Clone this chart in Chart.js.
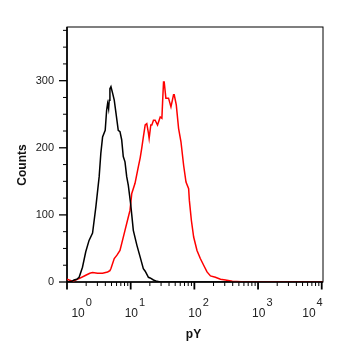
<!DOCTYPE html>
<html>
<head>
<meta charset="utf-8">
<script src="https://cdn.jsdelivr.net/npm/chart.js@4"></script>
<style>
  body { margin: 0; background: #fff; }
  #wrap { width: 352px; height: 353px; }
</style>
</head>
<body>
<div id="wrap"><canvas id="histo" width="352" height="353"></canvas></div>
<script>
// fluorescence channel (pY) and counts
const blackX = [1, 1.19, 1.29, 1.42, 1.55, 1.75, 1.97, 2.22, 2.52, 2.84, 3.2, 3.4, 3.62, 3.98, 4.19, 4.34, 4.5, 4.6, 4.72, 4.9, 5.21, 5.52, 5.87, 6.38, 6.79, 7.22, 7.65, 8.14, 8.66, 9.18, 10.0, 10.4, 11.0, 12.5, 14.1, 15.8, 16.9, 19.0, 20.2, 22.8, 25.8, 29.1, 10500];
const blackCounts = [0, 1, 3, 4, 7, 22, 45, 62, 73, 112, 157, 192, 216, 226, 256, 266, 258, 271, 288, 291, 281, 271, 252, 226, 224, 212, 187, 179, 157, 144, 116, 100, 77, 55, 37, 20, 16, 7, 6, 3, 1, 0, 0];

const redX = [1, 1.22, 1.55, 1.97, 2.28, 2.52, 3.02, 3.62, 4.34, 4.72, 4.9, 5.52, 6.09, 6.79, 8.14, 9.08, 9.77, 10.4, 11.7, 13.2, 14.1, 14.9, 15.8, 16.9, 17.9, 19.0, 19.5, 20.7, 21.5, 22.8, 24.2, 26.4, 29.1, 30.9, 31.8, 32.8, 33.6, 35.7, 39.3, 42.9, 47.1, 48.3, 52.0, 56.5, 61.6, 67.8, 73.9, 81.3, 83.4, 89.7, 97.5, 110, 124, 140, 158, 179, 214, 257, 308, 394, 638, 10500];
const redCounts = [4, 1, 5, 10, 13, 14, 13, 13, 15, 17, 20, 35, 40, 47, 77, 95, 107, 132, 147, 172, 185, 199, 216, 234, 236, 222, 214, 234, 234, 241, 241, 234, 246, 244, 271, 298, 298, 274, 274, 261, 279, 279, 264, 229, 209, 174, 149, 139, 122, 92, 67, 47, 35, 25, 15, 9, 7, 4, 3, 1, 0, 0];

const decades = [1, 10, 100, 1000, 10000];
const decadeExp = ['0', '1', '2', '3', '4'];
const yTicks = [0, 100, 200, 300];
const yMinor = [25, 50, 75, 125, 150, 175, 225, 250, 275, 325, 350, 375];

function toPoints(xs, ys) {
  return xs.map((x, i) => ({ x: x, y: ys[i] }));
}

const FONT = '"Liberation Sans", Arial, sans-serif';

const axesPlugin = {
  id: 'flowAxes',
  beforeDatasetsDraw(chart) {
    const ctx = chart.ctx;
    const a = chart.chartArea;
    const xs = chart.scales.x;
    const ys = chart.scales.y;
    ctx.save();
    ctx.strokeStyle = '#000';

    // frame
    ctx.lineWidth = 1;
    ctx.strokeRect(a.left, a.top, a.right - a.left, a.bottom - a.top);
    ctx.lineWidth = 1.6;
    ctx.beginPath();
    ctx.moveTo(a.left, a.top);
    ctx.lineTo(a.left, a.bottom);
    ctx.lineTo(a.right, a.bottom);
    ctx.stroke();

    // y ticks
    ctx.lineWidth = 1.3;
    yTicks.forEach(v => {
      const py = ys.getPixelForValue(v);
      ctx.beginPath(); ctx.moveTo(a.left - 8, py); ctx.lineTo(a.left, py); ctx.stroke();
    });
    ctx.lineWidth = 1;
    yMinor.forEach(v => {
      const py = ys.getPixelForValue(v);
      ctx.beginPath(); ctx.moveTo(a.left - 4, py); ctx.lineTo(a.left, py); ctx.stroke();
    });

    // x ticks, decades and 2..9
    decades.forEach((d, i) => {
      const px = xs.getPixelForValue(d);
      ctx.lineWidth = 1.8;
      ctx.beginPath(); ctx.moveTo(px, a.bottom); ctx.lineTo(px, a.bottom + 7.5); ctx.stroke();
      if (i < decades.length - 1) {
        ctx.lineWidth = 1;
        for (let k = 2; k <= 9; k++) {
          const mx = xs.getPixelForValue(d * k);
          ctx.beginPath(); ctx.moveTo(mx, a.bottom); ctx.lineTo(mx, a.bottom + 4); ctx.stroke();
        }
      }
    });

    // y labels
    ctx.fillStyle = '#222';
    ctx.font = '11px ' + FONT;
    ctx.textAlign = 'right';
    ctx.textBaseline = 'middle';
    yTicks.forEach(v => {
      ctx.fillText(String(v), 54, ys.getPixelForValue(v));
    });

    // x labels 10^n
    ctx.textAlign = 'left';
    ctx.textBaseline = 'alphabetic';
    decades.forEach((d, i) => {
      const px = xs.getPixelForValue(d);
      ctx.font = '12px ' + FONT;
      const w1 = ctx.measureText('10').width;
      ctx.font = '11px ' + FONT;
      const w2 = ctx.measureText(decadeExp[i]).width;
      const total = w1 + 1 + w2;
      let left = px - 6;
      if (i === 0) left = px + 4.4;
      if (i === decades.length - 1) left = px + 1 - total;
      ctx.font = '12px ' + FONT;
      ctx.fillText('10', left, 316.5);
      ctx.font = '11px ' + FONT;
      ctx.fillText(decadeExp[i], left + w1 + 1, 306);
    });

    // axis titles
    ctx.fillStyle = '#111';
    ctx.font = 'bold 12px ' + FONT;
    ctx.textAlign = 'center';
    ctx.fillText('pY', 193.5, 337.5);
    ctx.save();
    ctx.translate(25.5, 165);
    ctx.rotate(-Math.PI / 2);
    ctx.textBaseline = 'alphabetic';
    ctx.fillText('Counts', 0, 0);
    ctx.restore();

    ctx.restore();
  }
};

const ctx = document.getElementById('histo').getContext('2d');
const histoChart = new Chart(ctx, {
  type: 'line',
  data: {
    datasets: [
      {
        label: 'control',
        data: toPoints(blackX, blackCounts),
        borderColor: '#000',
        borderWidth: 1.5,
        pointRadius: 0,
        tension: 0,
        fill: false
      },
      {
        label: 'pY',
        data: toPoints(redX, redCounts),
        borderColor: '#ff0000',
        borderWidth: 1.5,
        pointRadius: 0,
        tension: 0,
        fill: false
      }
    ]
  },
  options: {
    responsive: false,
    animation: false,
    events: [],
    layout: { padding: { left: 67, top: 27, right: 29, bottom: 71 } },
    plugins: { legend: { display: false }, tooltip: { enabled: false } },
    scales: {
      x: { type: 'logarithmic', min: 1, max: 10471, display: false },
      y: { type: 'linear', min: 0, max: 380, display: false }
    }
  },
  plugins: [axesPlugin]
});
</script>
</body>
</html>
